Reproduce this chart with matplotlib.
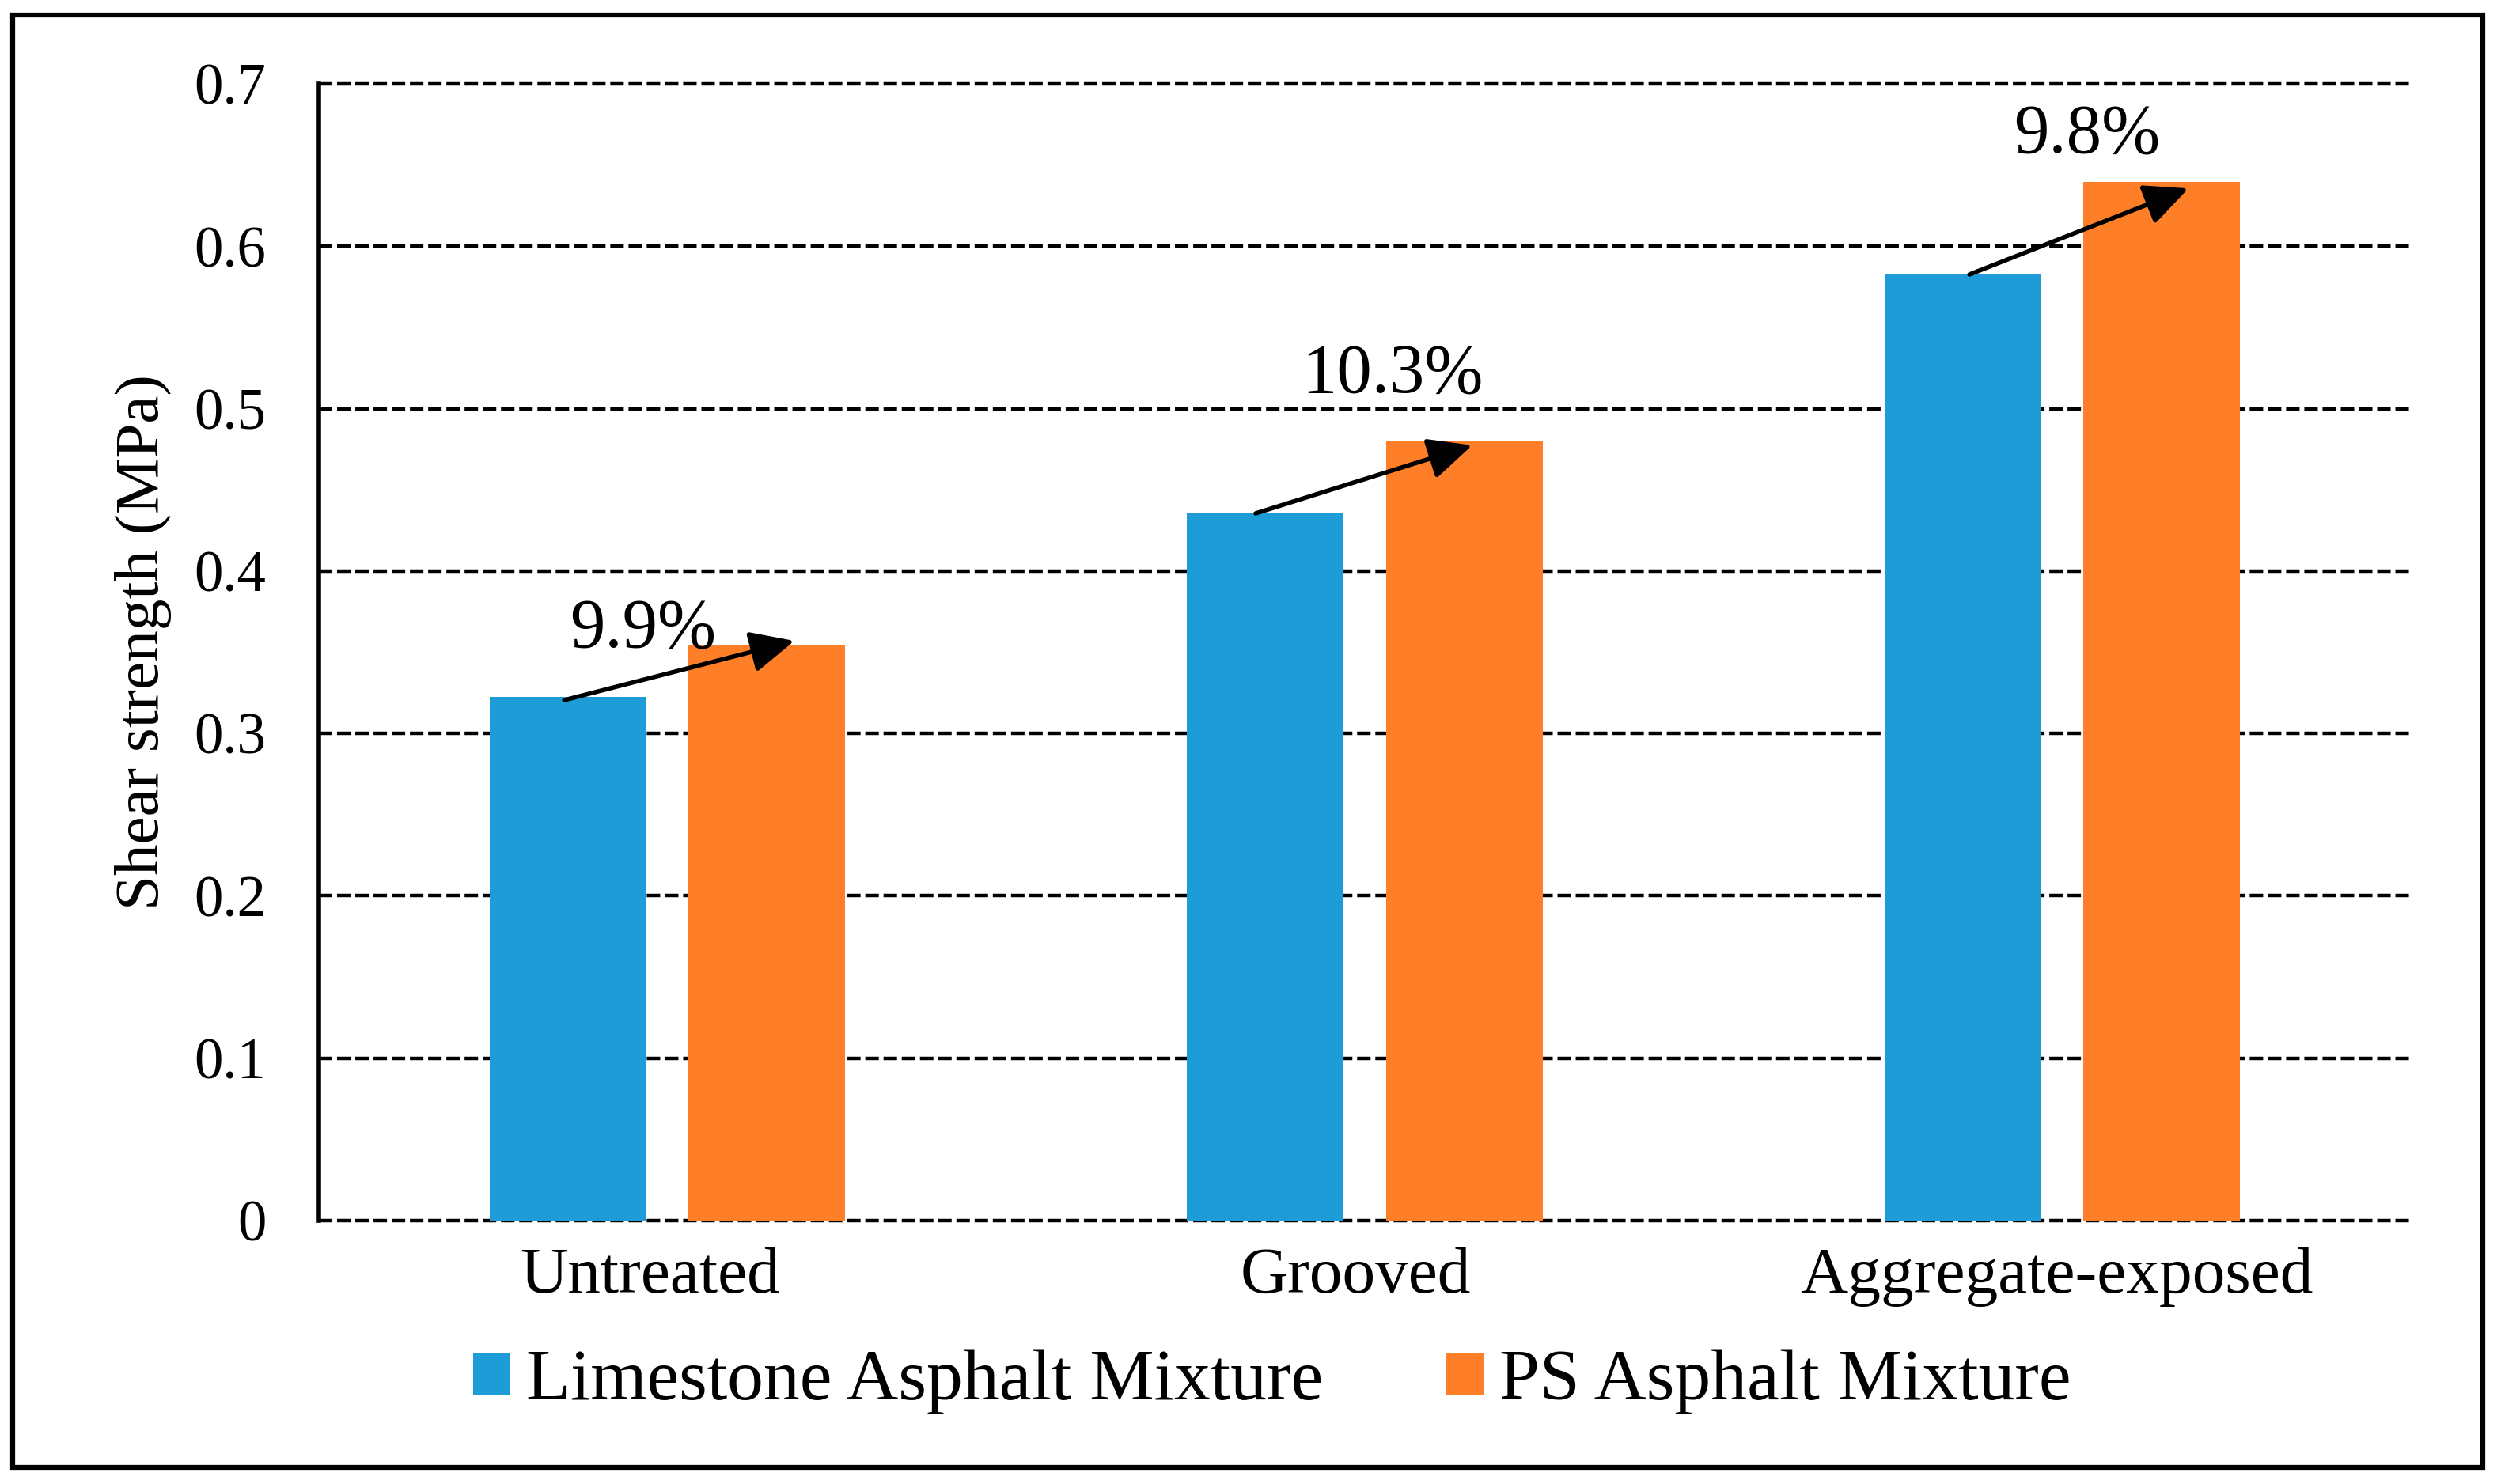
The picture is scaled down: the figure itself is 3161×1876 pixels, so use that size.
import matplotlib
matplotlib.use('Agg')
import matplotlib.pyplot as plt
import matplotlib.transforms as mtransforms
from matplotlib.patches import Rectangle
import numpy as np

plt.rcParams['font.family'] = ['Liberation Serif', 'DejaVu Serif']

# ---------------- data ----------------
categories = ['Untreated', 'Grooved', 'Aggregate-exposed']
series_names = ['Limestone Asphalt Mixture', 'PS Asphalt Mixture']
limestone = [0.3225, 0.4355, 0.5826]
ps_mix = [0.354, 0.480, 0.6396]
increase_labels = ['9.9%', '10.3%', '9.8%']
yticks = [0.0, 0.1, 0.2, 0.3, 0.4, 0.5, 0.6, 0.7]
ytick_labels = ['0', '0.1', '0.2', '0.3', '0.4', '0.5', '0.6', '0.7']
ylabel = 'Shear strength (MPa)'

# ---------------- style / layout ----------------
BLUE = '#1E9CD7'
ORANGE = '#FE7F27'
bar_w = 0.2245
bar_off = 0.1425

# arrow and label layout offsets (category units / data units)
arrow_start_dx = [-0.148, -0.1566, -0.133]
arrow_start_dy = [-0.002, 0.0, 0.0]
arrow_tip_dx = [0.182, 0.154, 0.181]
arrow_tip_dy = [0.003, -0.0026, -0.004]
label_dx = [-0.035, 0.040, 0.035]
label_y = [0.3532, 0.5103, 0.6576]
xlabel_shift_px = [-22, -12, -7]

fig = plt.figure(figsize=(31.61, 18.76), dpi=100)
ax = fig.add_axes([0.12749, 0.17751, 0.83645, 0.76599])

x = np.arange(len(categories))
ax.bar(x - bar_off, limestone, bar_w, color=BLUE, label=series_names[0], zorder=2)
ax.bar(x + bar_off, ps_mix, bar_w, color=ORANGE, label=series_names[1], zorder=2)

ax.set_xlim(-0.5, len(categories) - 0.5)
ax.set_ylim(0, 0.7)
ax.set_yticks(yticks, ytick_labels)
ax.set_xticks(x, categories)
ax.tick_params(axis='y', length=0, pad=48, labelsize=52.5)
ax.tick_params(axis='x', length=0, pad=24, labelsize=60)

for s in ['top', 'right', 'bottom']:
    ax.spines[s].set_visible(False)
ax.spines['left'].set_linewidth(4)
ax.spines['left'].set_color('black')

ax.yaxis.grid(True, color='black', linewidth=3.2, linestyle=(0, (3.83, 1.35)))
ax.xaxis.grid(False)
ax.set_axisbelow(True)
for gl in ax.get_ygridlines():
    gl.set_clip_on(False)

for lbl, sh in zip(ax.get_xticklabels(), xlabel_shift_px):
    lbl.set_transform(lbl.get_transform() +
                      mtransforms.ScaledTranslation(sh / 100, 0, fig.dpi_scale_trans))

ax.set_ylabel(ylabel, fontsize=57)
ax.yaxis.label.set_verticalalignment('center')
ax.yaxis.set_label_coords(-0.0840, 0.509)

# arrows and percentage labels
for i in range(len(categories)):
    ax.annotate('', xy=(x[i] + arrow_tip_dx[i], ps_mix[i] + arrow_tip_dy[i]),
                xytext=(x[i] + arrow_start_dx[i], limestone[i] + arrow_start_dy[i]),
                arrowprops=dict(arrowstyle='-|>,head_length=0.85,head_width=0.4',
                                mutation_scale=40, lw=4.0, color='black',
                                shrinkA=0, shrinkB=0),
                zorder=5)
    ax.text(x[i] + label_dx[i], label_y[i], increase_labels[i],
            ha='center', va='baseline', fontsize=64, zorder=6)

fig.legend(loc='center', bbox_to_anchor=(0.5087, 0.0688), ncol=2, frameon=False,
           fontsize=66, handlelength=0.513, handleheight=0.513,
           handletextpad=0.218, columnspacing=1.70, borderpad=0, borderaxespad=0)

fig.add_artist(Rectangle((0.00506, 0.01119), 0.98766, 0.97879,
                         transform=fig.transFigure, fill=False,
                         lw=4.5, ec='black'))

fig.savefig('out.png', dpi=100)
